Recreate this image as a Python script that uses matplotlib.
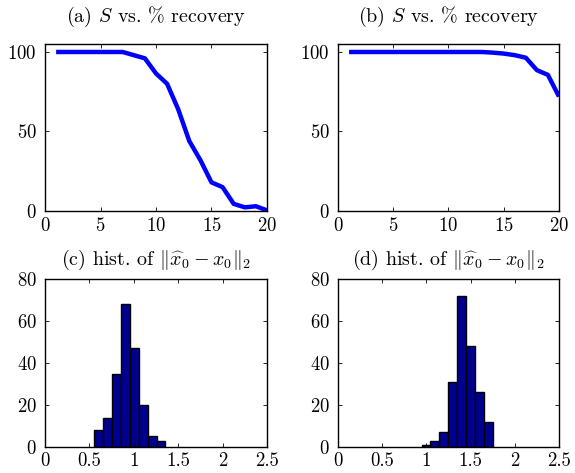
import numpy as np
import matplotlib
matplotlib.use('Agg')
import matplotlib.pyplot as plt

plt.rcParams['font.family'] = 'serif'
plt.rcParams['font.serif'] = ['cmr10']
plt.rcParams['mathtext.fontset'] = 'cm'
plt.rcParams['axes.formatter.use_mathtext'] = True
plt.rcParams['font.size'] = 12

# sparsity S vs % recovery
S = np.arange(1, 21)
rec_a = [100, 100, 100, 100, 100, 100, 100, 98, 96, 86.5, 80, 64, 44, 32, 18, 15, 4.5, 2.3, 3, 0.4]
rec_b = [100, 100, 100, 100, 100, 100, 100, 100, 100, 100, 100, 100, 100, 99.6, 99, 98, 96.4, 88.6, 85.6, 72]

# histograms of ||x0_hat - x0||_2 (bin centres, counts)
centers_c = [0.603, 0.703, 0.804, 0.904, 1.005, 1.105, 1.206, 1.306]
counts_c = [8, 14, 35, 68, 47, 20, 5, 3]
centers_d = [0.996, 1.096, 1.197, 1.297, 1.397, 1.498, 1.598, 1.699]
counts_d = [1, 3, 7, 31, 72, 48, 26, 12]
bin_w = 0.1005

fig = plt.figure(figsize=(5.75, 4.73), dpi=100)
ax_a = fig.add_axes([0.0783, 0.5539, 0.386, 0.353])
ax_b = fig.add_axes([0.5878, 0.5539, 0.3843, 0.353])
ax_c = fig.add_axes([0.0783, 0.055, 0.386, 0.355])
ax_d = fig.add_axes([0.5878, 0.055, 0.3843, 0.355])

for ax, rec, lab in [(ax_a, rec_a, '(a)'), (ax_b, rec_b, '(b)')]:
    ax.plot(S, rec, color='#0000ff', lw=3.2, solid_capstyle='butt')
    ax.set_xlim(0, 20)
    ax.set_ylim(0, 105)
    ax.set_xticks([0, 5, 10, 15, 20])
    ax.set_yticks([0, 50, 100])
    ax.set_title(lab + r' $S$ vs. % recovery', pad=16)

for ax, cen, cnt, lab in [(ax_c, centers_c, counts_c, '(c)'), (ax_d, centers_d, counts_d, '(d)')]:
    ax.bar(cen, cnt, width=bin_w, color='#00008f', edgecolor='black', lw=1)
    ax.set_xlim(0, 2.5)
    ax.set_ylim(0, 80)
    ax.set_xticks([0, 0.5, 1, 1.5, 2, 2.5])
    ax.set_xticklabels(['0', '0.5', '1', '1.5', '2', '2.5'])
    ax.set_yticks([0, 20, 40, 60, 80])
    ax.set_title(lab + r' hist. of $\Vert\widehat{x}_0 - x_0\Vert_2$', pad=10)

for ax in [ax_a, ax_b, ax_c, ax_d]:
    ax.tick_params(direction='in', top=True, right=True, length=3, width=0.6,
                   labelsize=13.5)
    ax.tick_params(axis='x', pad=4)
    ax.tick_params(axis='y', pad=6)
    for sp in ax.spines.values():
        sp.set_linewidth(1.0)

plt.savefig('out.png', dpi=100)
